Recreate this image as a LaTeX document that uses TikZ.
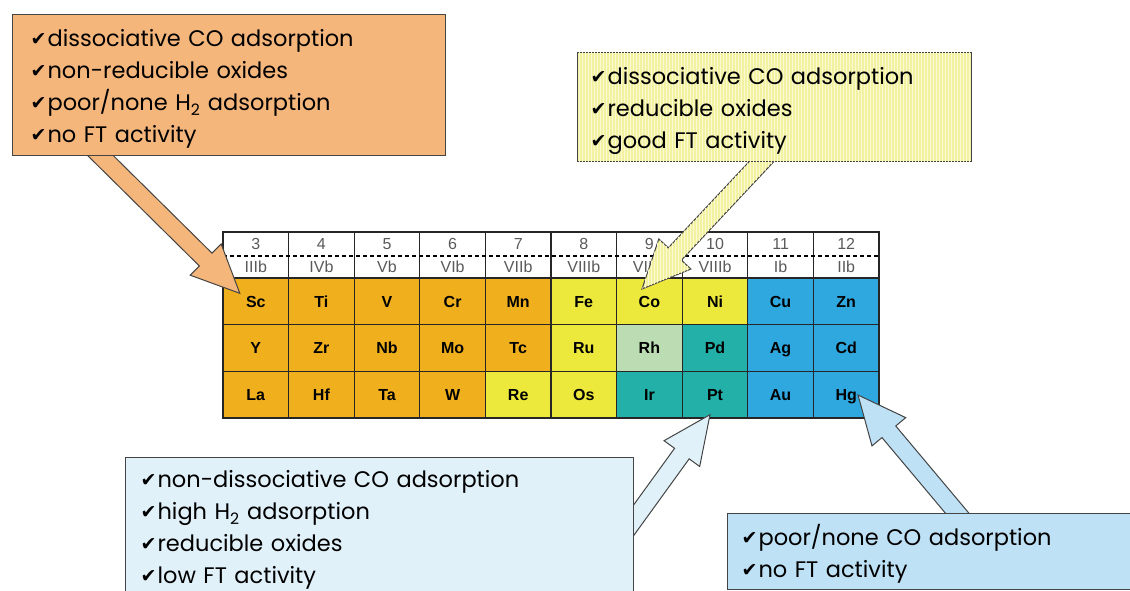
\documentclass[tikz,border=0pt]{standalone}
\usepackage{fontspec}
\setmainfont{Liberation Sans}
\newfontfamily\boxfont{Poppins}
\newfontfamily\symf{DejaVu Sans}
\usetikzlibrary{calc,patterns}
\definecolor{orC}{HTML}{F0B01E}
\definecolor{yeC}{HTML}{ECE83C}
\definecolor{lgC}{HTML}{BCDDB4}
\definecolor{teC}{HTML}{22B0A8}
\definecolor{blC}{HTML}{2EA8DF}
\definecolor{peach}{HTML}{F5B67C}
\definecolor{lyel}{HTML}{F3F2A0}
\definecolor{lblue}{HTML}{E0F1FA}
\definecolor{mblue}{HTML}{BEE1F5}
\definecolor{edge}{HTML}{444444}
\definecolor{hdr}{HTML}{5A5A5A}
\newcommand{\ck}{{\symf\fontsize{19}{19}\selectfont\raisebox{1pt}{✔}}\hspace{1pt}}
\newcommand{\topstrut}{\rule{0pt}{25pt}}
\newcommand{\blockarrow}[3]{%
  \coordinate (ah) at ($(#2)!48pt!(#1)$);
  \filldraw[draw=edge, line width=1pt, line join=miter, #3]
    ($(#1)!9pt!90:(#2)$) -- ($(ah)!9pt!90:(#2)$) -- ($(ah)!22pt!90:(#2)$) -- (#2)
    -- ($(ah)!22pt!-90:(#2)$) -- ($(ah)!9pt!-90:(#2)$) -- ($(#1)!9pt!-90:(#2)$) -- cycle;}
\begin{document}
\begin{tikzpicture}[x=1pt,y=-1pt,
  cell/.style={draw=black!85, line width=1.2pt, minimum width=65.6pt, minimum height=46.67pt,
    inner sep=0pt, text height=11.5pt, text depth=0pt, font=\fontsize{16}{16}\selectfont\bfseries},
  hcell/.style={draw=black!85, line width=1.2pt, fill=white, minimum width=65.6pt, minimum height=46pt, inner sep=0pt},
  htext/.style={text=hdr, inner sep=0pt, font=\fontsize{16}{16}\selectfont},
  callout/.style={draw=edge, line width=1.3pt, anchor=north west, align=left,
    font=\boxfont\fontsize{22.5}{32}\selectfont, inner ysep=0pt},
  stripes/.style={postaction={pattern=vertical lines, pattern color=white!55!lyel}}]
\clip (0,0) rectangle (1130,591);
\fill[white] (0,0) rectangle (1130,591);
% header
\foreach \n/\r [count=\i from 0] in {3/IIIb,4/IVb,5/Vb,6/VIb,7/VIIb,8/VIIIb,9/VIIIb,10/VIIIb,11/Ib,12/IIb}{
  \node[hcell] (h\i) at ({255.8+65.6*\i},255) {};
  \node[htext] (n\i) at ({255.8+65.6*\i},244) {\n};
  \node[htext] (r\i) at ({255.8+65.6*\i},267) {\r};
}
\draw[line width=1.5pt, dash pattern=on 4pt off 3pt] (223,256) -- (879,256);
% rows
\foreach \el/\c [count=\i from 0] in {Sc/orC,Ti/orC,V/orC,Cr/orC,Mn/orC,Fe/yeC,Co/yeC,Ni/yeC,Cu/blC,Zn/blC}
  \node[cell, fill=\c] (\el) at ({255.8+65.6*\i},301.3) {\el};
\foreach \el/\c [count=\i from 0] in {Y/orC,Zr/orC,Nb/orC,Mo/orC,Tc/orC,Ru/yeC,Rh/lgC,Pd/teC,Ag/blC,Cd/blC}
  \node[cell, fill=\c] (\el) at ({255.8+65.6*\i},348) {\el};
\foreach \el/\c [count=\i from 0] in {La/orC,Hf/orC,Ta/orC,W/orC,Re/yeC,Os/yeC,Ir/teC,Pt/teC,Au/blC,Hg/blC}
  \node[cell, fill=\c] (\el) at ({255.8+65.6*\i},394.7) {\el};
\draw[line width=2pt, draw=black!85] (223,232) rectangle (879,418);
% callout boxes (placed first to get anchors)
\path node[callout, minimum height=141pt, text width=397pt, inner xsep=18pt] (obox) at (12,14)
  {\topstrut\ck dissociative CO adsorption\\ \ck non-reducible oxides\\ \ck poor/none H\textsubscript{2} adsorption\\ \ck no FT activity};
\path node[callout, minimum height=109pt, text width=368pt, inner xsep=13pt] (ybox) at (577,52)
  {\topstrut\ck dissociative CO adsorption\\ \ck reducible oxides\\ \ck good FT activity};
\path node[callout, minimum height=145pt, text width=478pt, inner xsep=15pt] (lbox) at (125,457)
  {\ck non-dissociative CO adsorption\\ \ck high H\textsubscript{2} adsorption\\ \ck reducible oxides\\ \ck low FT activity};
\path node[callout, minimum height=76pt, text width=392pt, inner xsep=14pt] (rbox) at (727,513)
  {\topstrut\ck poor/none CO adsorption\\ \ck no FT activity};
% arrow anchors
\coordinate (oa) at ($(obox.south west)+(69,-20)$);
\coordinate (ot) at ($(Sc.center)+(-16,-8)$);
\coordinate (ya) at ($(ybox.south west)+(202.6,-20)$);
\coordinate (yt) at ($(Co.center)+(-7.4,-12.3)$);
\coordinate (la) at ($(lbox.north east)+(-20,90)$);
\coordinate (lt) at ($(Pt.center)+(-5,20)$);
\coordinate (ra) at ($(rbox.north west)+(246.8,20)$);
\coordinate (rt) at ($(Hg.center)+(11.8,0.3)$);
% arrows
\blockarrow{oa}{ot}{fill=peach}
\blockarrow{ya}{yt}{fill=lyel, stripes}
\blockarrow{la}{lt}{fill=lblue}
\blockarrow{ra}{rt}{fill=mblue}
% boxes drawn on top
\node[callout, fill=peach, minimum height=141pt, text width=397pt, inner xsep=18pt] at (12,14)
  {\topstrut\ck dissociative CO adsorption\\ \ck non-reducible oxides\\ \ck poor/none H\textsubscript{2} adsorption\\ \ck no FT activity};
\node[callout, fill=lyel, stripes, minimum height=109pt, text width=368pt, inner xsep=13pt] at (577,52)
  {\topstrut\ck dissociative CO adsorption\\ \ck reducible oxides\\ \ck good FT activity};
\node[callout, fill=lblue, minimum height=145pt, text width=478pt, inner xsep=15pt] at (125,457)
  {\ck non-dissociative CO adsorption\\ \ck high H\textsubscript{2} adsorption\\ \ck reducible oxides\\ \ck low FT activity};
\node[callout, fill=mblue, minimum height=76pt, text width=392pt, inner xsep=14pt] at (727,513)
  {\topstrut\ck poor/none CO adsorption\\ \ck no FT activity};
\end{tikzpicture}
\end{document}
